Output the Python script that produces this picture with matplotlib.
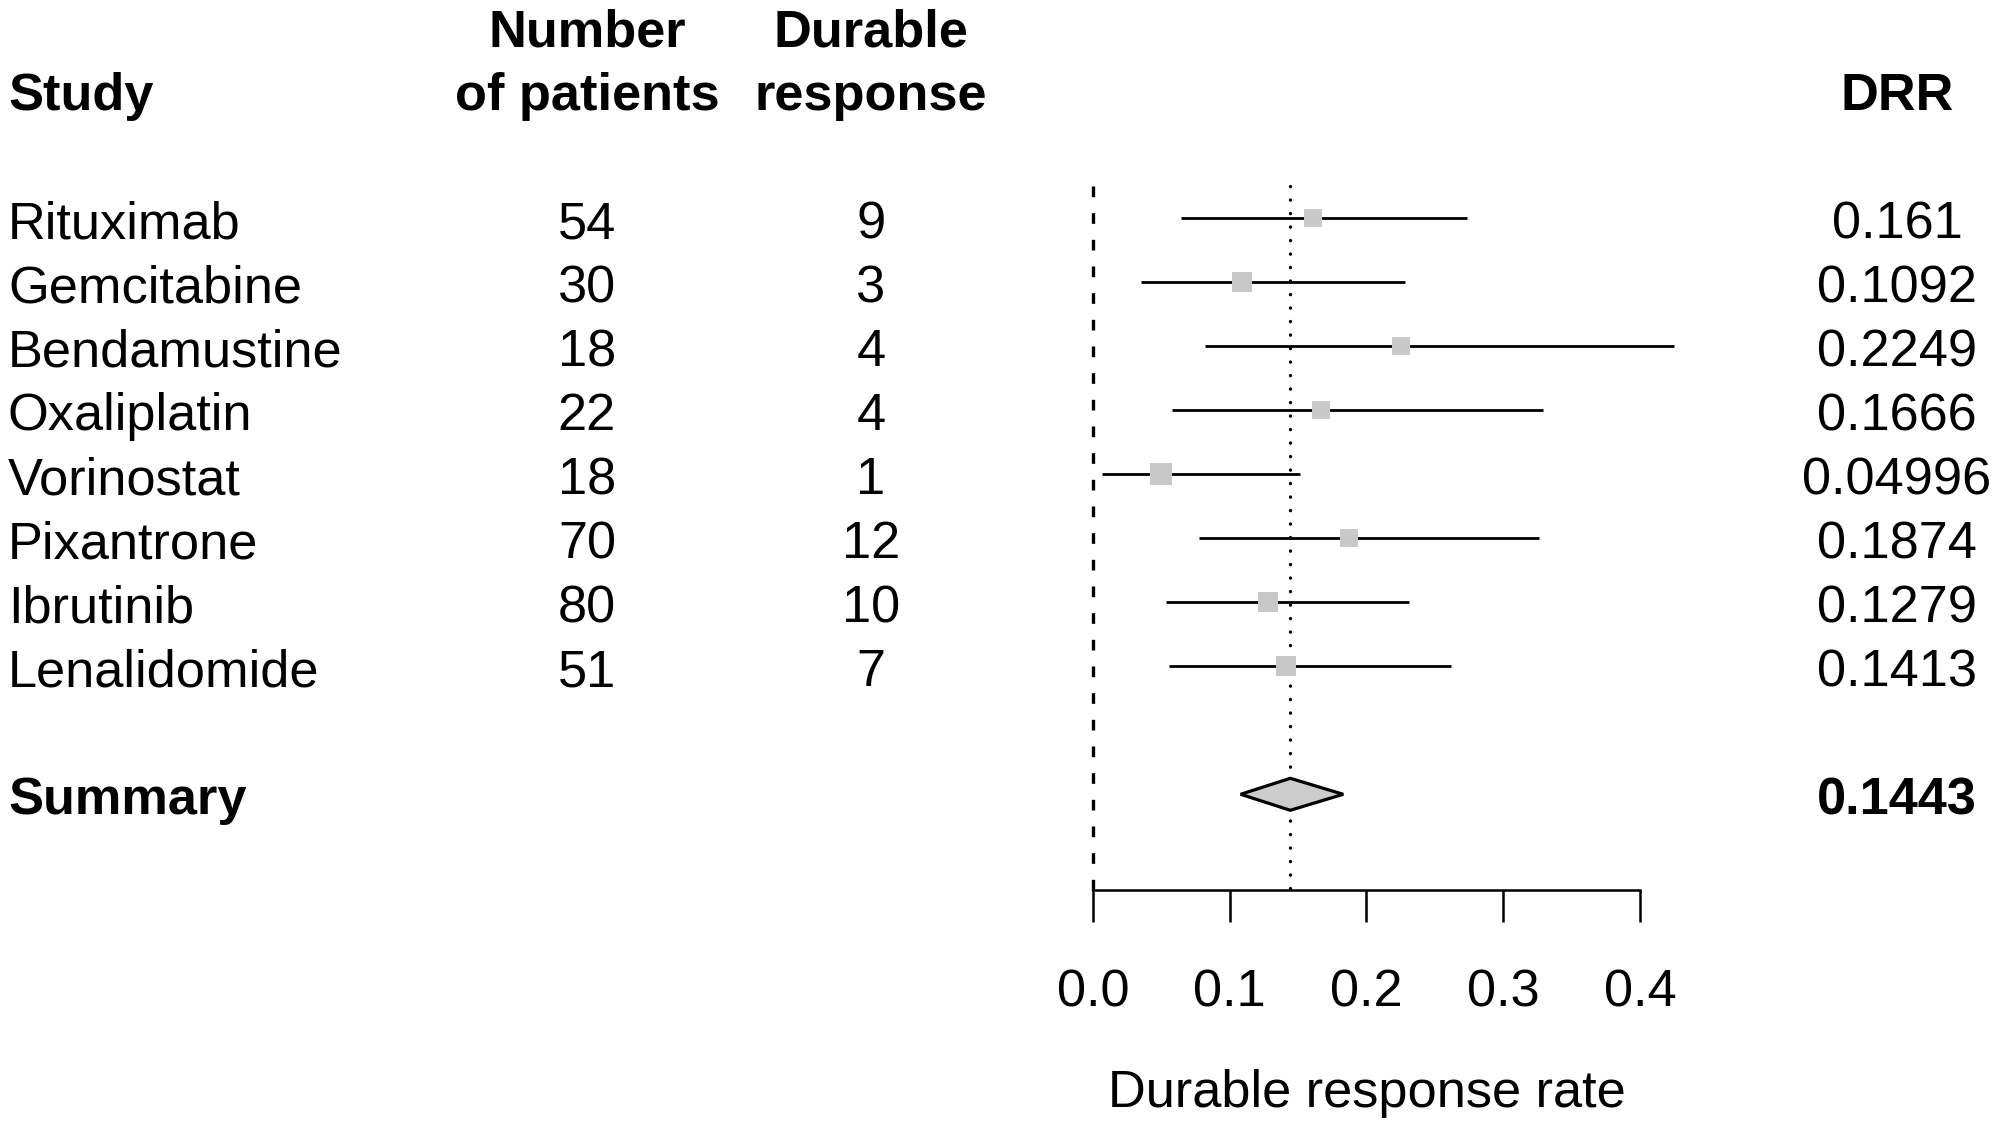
import matplotlib
matplotlib.use("Agg")
import matplotlib.pyplot as plt
import matplotlib.transforms as mtransforms
from matplotlib.patches import Polygon

# ---------------- data ----------------
studies = ["Rituximab", "Gemcitabine", "Bendamustine", "Oxaliplatin",
           "Vorinostat", "Pixantrone", "Ibrutinib", "Lenalidomide"]
n_patients = [54, 30, 18, 22, 18, 70, 80, 51]
durable = [9, 3, 4, 4, 1, 12, 10, 7]
drr = [0.161, 0.1092, 0.2249, 0.1666, 0.04996, 0.1874, 0.1279, 0.1413]
drr_labels = ["0.161", "0.1092", "0.2249", "0.1666", "0.04996",
              "0.1874", "0.1279", "0.1413"]
ci_lower = [0.0647, 0.0351, 0.0818, 0.0580, 0.0068, 0.0776, 0.0535, 0.0555]
ci_upper = [0.2734, 0.2280, 0.4247, 0.3294, 0.1513, 0.3260, 0.2310, 0.2617]
box_size = [18.4, 19.1, 18.0, 18.8, 22.6, 18.8, 20.3, 20.3]  # relative box sizes

summary_name = "Summary"
summary_est = 0.1443
summary_lower = 0.108
summary_upper = 0.183
summary_label = "0.1443"

xticks = [0.0, 0.1, 0.2, 0.3, 0.4]
xticklabels = ["0.0", "0.1", "0.2", "0.3", "0.4"]
xlabel = "Durable response rate"

# ---------------- layout ----------------
plt.rcParams["font.family"] = ["Liberation Sans", "DejaVu Sans"]
FS = 37.7
W, H, DPI = 20.0, 11.26, 100
fig = plt.figure(figsize=(W, H), dpi=DPI)
ax = fig.add_axes([0, 0, 1, 1])
ax.set_xlim(-0.7993, 0.6633)
ax.set_ylim(15.183, -2.411)
ax.patch.set_visible(False)

rows = list(range(1, len(studies) + 1))
summary_row = len(studies) + 2
base_off = 0.308  # baseline offset (rows) for text centered on a row

tr = mtransforms.blended_transform_factory(ax.transAxes, ax.transData)
col_study, col_n, col_d, col_drr = 0.004, 0.2935, 0.4355, 0.9485

# headers
ax.text(col_study, -1 + base_off, "Study", transform=tr, ha="left",
        va="baseline", fontsize=FS, fontweight="bold")
ax.text(col_n, -2 + base_off, "Number", transform=tr, ha="center",
        va="baseline", fontsize=FS, fontweight="bold")
ax.text(col_n, -1 + base_off, "of patients", transform=tr, ha="center",
        va="baseline", fontsize=FS, fontweight="bold")
ax.text(col_d, -2 + base_off, "Durable", transform=tr, ha="center",
        va="baseline", fontsize=FS, fontweight="bold")
ax.text(col_d, -1 + base_off, "response", transform=tr, ha="center",
        va="baseline", fontsize=FS, fontweight="bold")
ax.text(col_drr, -1 + base_off, "DRR", transform=tr, ha="center",
        va="baseline", fontsize=FS, fontweight="bold")

# study rows
for r, s, n, d, lab in zip(rows, studies, n_patients, durable, drr_labels):
    ax.text(col_study, r + base_off, s, transform=tr, ha="left",
            va="baseline", fontsize=FS)
    ax.text(col_n, r + base_off, str(n), transform=tr, ha="center",
            va="baseline", fontsize=FS)
    ax.text(col_d, r + base_off, str(d), transform=tr, ha="center",
            va="baseline", fontsize=FS)
    ax.text(col_drr, r + base_off, lab, transform=tr, ha="center",
            va="baseline", fontsize=FS)

ax.text(col_study, summary_row + base_off, summary_name, transform=tr,
        ha="left", va="baseline", fontsize=FS, fontweight="bold")
ax.text(col_drr, summary_row + base_off, summary_label, transform=tr,
        ha="center", va="baseline", fontsize=FS, fontweight="bold")

# reference lines
ax.vlines(0, 0.5, summary_row + 1.5, colors="black", linewidth=2.4,
          linestyles=[(0, (3.2, 4.8))])
ax.plot([summary_est, summary_est], [0.5, summary_row + 1.5], color="black",
        linewidth=2.4, linestyle=(0, (0.05, 4.0)), dash_capstyle="round")

# confidence intervals
ax.hlines(rows, ci_lower, ci_upper, colors="black", linewidth=2.0, zorder=3)
for r, est, b in zip(rows, drr, box_size):
    ax.plot([est], [r], marker="s", markersize=b * 0.72, color="#c8c8c8",
            markeredgewidth=0, linestyle="none", zorder=4)

# summary diamond
dh = 0.25
diamond = Polygon([(summary_lower, summary_row), (summary_est, summary_row - dh),
                   (summary_upper, summary_row), (summary_est, summary_row + dh)],
                  closed=True, facecolor="#cccccc", edgecolor="black",
                  linewidth=2.3, joinstyle="miter", zorder=5)
ax.add_patch(diamond)

# axis
for side in ["top", "left", "right"]:
    ax.spines[side].set_visible(False)
ax.spines["bottom"].set_position(("data", summary_row + 1.5))
ax.spines["bottom"].set_bounds(xticks[0], xticks[-1])
ax.spines["bottom"].set_linewidth(1.8)
ax.set_xticks(xticks)
ax.set_xticklabels(xticklabels)
ax.tick_params(axis="x", direction="out", length=23, width=1.8, pad=33.5,
               labelsize=FS)
ax.set_yticks([])
ax.text((xticks[0] + xticks[-1]) / 2, 14.886, xlabel, ha="center",
        va="baseline", fontsize=FS)

fig.savefig("out.png", dpi=DPI)
